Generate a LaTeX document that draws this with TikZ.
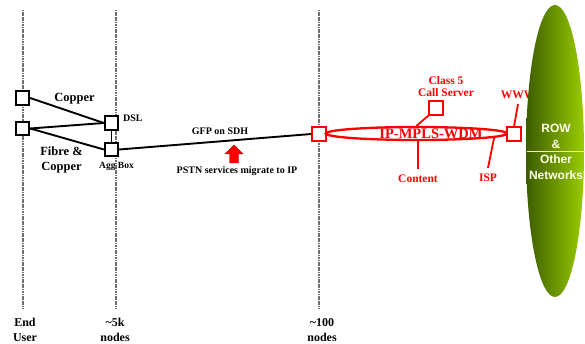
\documentclass[tikz,border=0pt]{standalone}
\usepackage{fontspec}
\setmainfont{Liberation Serif}
\newfontfamily\rowfont{Liberation Sans}
\usepackage{tikz}
\usetikzlibrary{positioning,shapes.geometric}
\definecolor{netred}{HTML}{FF0000}
\definecolor{rowdark}{HTML}{3D5C00}
\definecolor{rowlight}{HTML}{9ACD00}
\definecolor{tiergrey}{HTML}{6E6E6E}
\tikzset{
  box/.style={draw,line width=1.8pt,fill=white,minimum size=13.5pt,inner sep=0pt},
  redbox/.style={box,draw=netred},
  link/.style={line width=1.9pt},
  redlink/.style={line width=1.8pt,draw=netred},
  tier/.style={draw=tiergrey,line width=2pt,dash pattern=on 1.2pt off 0.5pt},
  lblbig/.style={font=\bfseries\fontsize{12.5}{15}\selectfont,align=center,inner sep=0pt},
  lblsmall/.style={font=\bfseries\fontsize{10}{12}\selectfont,inner sep=0pt},
  redlbl/.style={font=\bfseries\fontsize{11.5}{12}\selectfont,text=netred,align=center,inner sep=0pt},
}
\begin{document}
\begin{tikzpicture}[x=1pt,y=-1pt]
  \clip (0,0) rectangle (585,344);
  \fill[white] (0,0) rectangle (585,344);
  % tiers
  \foreach \x in {23,115.5,318.5}{\draw[tier] (\x,10)--(\x,308);}
  % access side
  \node[box] (e1) at (22.5,98) {};
  \node[box] (e2) at (22.5,128.5) {};
  \node[box] (dsl) at (111.5,123) {};
  \node[box] (agg) at (111.5,149.5) {};
  \node[redbox] (ipl) at (319,134) {};
  \draw[link] (e1.east)--(dsl.west);
  \draw[link] (e2.east)--(dsl.west);
  \draw[link] (e2.east)--(agg.west);
  \draw[link] (dsl)--(agg);
  \draw[link] (agg.east)--(ipl.west);
  \node[lblbig] (cop) at (74.5,99) {Copper};
  \node[lblbig] (fib) at (61.5,160) {Fibre \&\\Copper};
  \node[lblsmall,anchor=west] (dsll) at (123,118) {DSL};
  \node[lblsmall,font=\bfseries\fontsize{9.5}{11}\selectfont,below=5pt of agg,xshift=5pt] (aggl) {Agg Box};
  \node[lblsmall] (gfp) at (220,131) {GFP on SDH};
  \node[lblsmall] (pstn) at (237,171) {PSTN services migrate to IP};
  \fill[netred,draw=red!70!black,line width=0.4pt] (229.5,163)--(229.5,154)--(225,154)--(234,145)--(243,154)--(238.5,154)--(238.5,163)--cycle;
  % core
  \node[ellipse,draw=netred,line width=2.3pt,minimum width=181pt,minimum height=13pt,inner sep=0pt] (core) at (416.5,133.5) {};
  \node[redbox] (wwwbox) at (514,134) {};
  \node[redbox] (cls) at (436,108) {};
  \draw[redlink] (cls.south west)--(core.north);
  \node[redlbl,font=\bfseries\fontsize{14.5}{15}\selectfont] (corel) at (431,134) {IP-MPLS-WDM};
  \node[redlbl] (clsl) at (446,87) {Class 5\\Call Server};
  \node[redlbl] (content) at (418,179) {Content};
  \node[redlbl] (isp) at (488,178) {ISP};
  \node[redlbl] (www) at (518,95) {WWW};
  \coordinate[above=6pt of content] (contenttip);
  \coordinate[above=6pt of isp] (isptip);
  \coordinate[below=5pt of www] (wwwtip);
  \draw[redlink] (core.south -| contenttip)--(contenttip);
  \draw[redlink] (core.-3.5)--(isptip);
  \draw[redlink] (wwwbox.north)--(wwwtip);
  % rest of world
  \shade[left color=rowdark,right color=rowlight] (555,151) ellipse [x radius=29,y radius=146];
  \draw[white!75!rowlight,line width=0.6pt] (526.5,151)--(585,151);
  \node[font=\rowfont\bfseries\fontsize{12}{15.5}\selectfont,text=white!92!yellow,align=center] (row) at (556,152) {ROW\\\&\\Other\\Networks};
  % bottom labels
  \node[lblbig,font=\bfseries\fontsize{12}{15.5}\selectfont] (eu) at (25,330) {End\\User};
  \node[lblbig,font=\bfseries\fontsize{12}{15.5}\selectfont] (k5) at (115,330) {\textasciitilde5k\\nodes};
  \node[lblbig,font=\bfseries\fontsize{12}{15.5}\selectfont] (n100) at (322,330) {\textasciitilde100\\nodes};
\end{tikzpicture}
\end{document}
